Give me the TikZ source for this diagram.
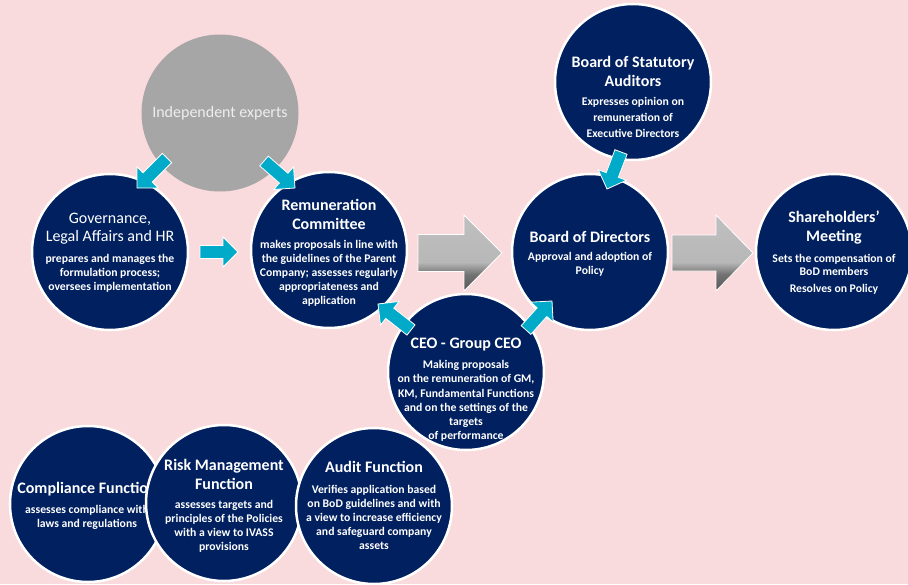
\documentclass[tikz,border=0pt]{standalone}
\usepackage{fontspec}
\setmainfont{Carlito}
\usetikzlibrary{calc}

\definecolor{bgpink}{RGB}{250,219,221}
\definecolor{navy}{RGB}{0,32,96}
\definecolor{arrowcyan}{RGB}{0,170,200}
\definecolor{softgray}{RGB}{166,166,166}
\definecolor{paletext}{RGB}{238,238,238}

% bevelled grey fill for the large process arrows (darker lower rim)
\pgfdeclareverticalshading{bevelgray}{100bp}{%
  color(0bp)=(black!70); color(25bp)=(black!66); color(36bp)=(black!55);
  color(44bp)=(black!28); color(75bp)=(black!25); color(100bp)=(black!25)}

% block arrow: #1 style, #2 tail, #3 tip, #4 shaft half width, #5 head half width, #6 head length
\newcommand\blockarrow[6]{%
  \coordinate (hb) at ($(#3)!#6!(#2)$);
  \path[#1] ($(#2)!#4!90:(#3)$) -- ($(hb)!#4!90:(#3)$) -- ($(hb)!#5!90:(#3)$)
    -- (#3) -- ($(hb)!#5!-90:(#3)$) -- ($(hb)!#4!-90:(#3)$) -- ($(#2)!#4!-90:(#3)$) -- cycle;
}

\tikzset{
  circ/.style={circle, minimum size=156pt, inner sep=0pt, fill=navy, draw=white, line width=2.5pt},
  ttl/.style={text=white, align=center, inner sep=0pt, font=\fontsize{16}{19}\selectfont\bfseries},
  ttlreg/.style={text=white, align=center, inner sep=0pt, font=\fontsize{16}{18}\selectfont},
  txt/.style={text=white, align=center, inner sep=0pt, font=\fontsize{11.7}{14}\selectfont\bfseries},
  cyanarrow/.style={fill=arrowcyan, draw=white, line width=0.8pt, line join=miter},
  grayarrow/.style={shading=bevelgray, draw=white, line width=0.8pt, line join=miter},
}

\begin{document}
\begin{tikzpicture}[x=1pt, y=-1pt]
\useasboundingbox (0,0) rectangle (908,584);
\fill[bgpink] (0,0) rectangle (908,584);
\clip (0,0) rectangle (908,584);

% large grey process arrows
\coordinate (g1t) at (418,253);
\coordinate (g1h) at (502,253);
\coordinate (g2t) at (672,253);
\coordinate (g2h) at (753,253);
\blockarrow{grayarrow}{g1t}{g1h}{18.5pt}{38pt}{38pt}
\blockarrow{grayarrow}{g2t}{g2h}{18pt}{38pt}{37pt}

% independent experts
\node[circle, minimum size=157pt, inner sep=0pt, fill=softgray] (ind) at (220,113) {};
\node[text=paletext, font=\fontsize{16}{18}\selectfont, inner sep=0pt] (indt) at (220,113) {Independent experts};

% governance
\node[circ] (gov) at (110,252) {};
\node[ttlreg] (govt) at (110,229) {Governance,\\Legal Affairs and HR};
\node[txt] (govb) at (110,273) {prepares and manages the\\formulation process;\\oversees implementation};

% remuneration committee
\node[circ] (rem) at (329,250) {};
\node[ttl] (remt) at (329,214.5) {Remuneration\\Committee};
\node[txt] (remb) at (329,273.6) {makes proposals in line with\\the guidelines of the Parent\\Company; assesses regularly\\appropriateness and\\application};

% board of directors
\node[circ] (bod) at (590,252) {};
\node[ttl] (bodt) at (590,237) {Board of Directors};
\node[txt] (bodb) at (590,264) {Approval and adoption of\\Policy};

% board of statutory auditors
\node[circ] (sta) at (633,82) {};
\node[ttl] (stat) at (633,71.5) {Board of Statutory\\Auditors};
\node[txt, font=\fontsize{11.7}{16}\selectfont\bfseries] (stab) at (633,117) {Expresses opinion on\\remuneration of\\Executive Directors};

% shareholders' meeting
\node[circ] (sha) at (834,252) {};
\node[ttl] (shat) at (834,227.5) {Shareholders’\\Meeting};
\node[txt, font=\fontsize{11.7}{13}\selectfont\bfseries] (shab) at (834,264.5) {Sets the compensation of\\BoD members};
\node[txt] (shac) at (834,289) {Resolves on Policy};

% CEO
\node[circ] (ceo) at (466,372) {};
\node[ttl] (ceot) at (466,345) {CEO - Group CEO};
\node[txt, font=\fontsize{11.7}{14.2}\selectfont\bfseries] (ceob) at (466,401) {Making proposals\\on the remuneration of GM,\\KM, Fundamental Functions\\and on the settings of the\\targets\\of performance};

% control functions, overlapping row
\node[circ] (cmp) at (88,504) {};
\node[ttl] (cmpt) at (87,489) {Compliance Function};
\node[txt] (cmpb) at (87,517) {assesses compliance with\\laws and regulations};

\node[circ] (rsk) at (224,503) {};
\node[ttl] (rskt) at (224,474.5) {Risk Management\\Function};
\node[txt] (rskb) at (224,526) {assesses targets and\\principles of the Policies\\with a view to IVASS\\provisions};

\node[circ] (aud) at (374,506) {};
\node[ttl] (audt) at (374,467) {Audit Function};
\node[txt] (audb) at (374,517) {Verifies application based\\on BoD guidelines and with\\a view to increase efficiency\\and safeguard company\\assets};

% cyan flow arrows
\coordinate (a1t) at (167,158); \coordinate (a1h) at (137,188);
\coordinate (a2t) at (264,161); \coordinate (a2h) at (295,188);
\coordinate (a3t) at (200,252); \coordinate (a3h) at (238,252);
\coordinate (a4t) at (411,330); \coordinate (a4h) at (378,304);
\coordinate (a5t) at (526,330); \coordinate (a5h) at (552,301);
\coordinate (a6t) at (621,152); \coordinate (a6h) at (607,189);
\blockarrow{cyanarrow}{a1t}{a1h}{6.5pt}{15pt}{15pt}
\blockarrow{cyanarrow}{a2t}{a2h}{6.5pt}{15pt}{15pt}
\blockarrow{cyanarrow}{a3t}{a3h}{6.5pt}{15pt}{15pt}
\blockarrow{cyanarrow}{a4t}{a4h}{6.5pt}{15pt}{15pt}
\blockarrow{cyanarrow}{a5t}{a5h}{6.5pt}{15pt}{15pt}
\blockarrow{cyanarrow}{a6t}{a6h}{6.5pt}{15pt}{15pt}
\end{tikzpicture}
\end{document}
